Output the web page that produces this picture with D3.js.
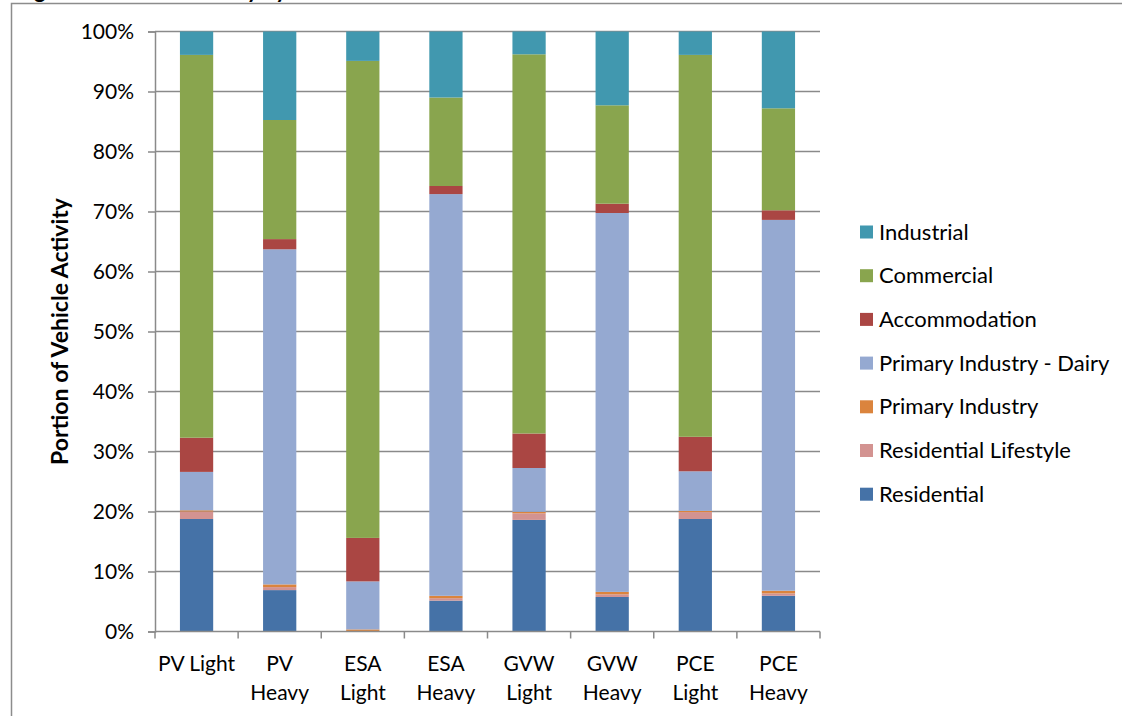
<!DOCTYPE html>
<html>
<head>
<meta charset="utf-8">
<script src="https://cdn.jsdelivr.net/npm/d3@7"></script>
<style>
  html, body { margin: 0; padding: 0; background: #ffffff; }
  svg { display: block; }
  text { font-family: Lato, "Open Sans", sans-serif; fill: #000; }
</style>
</head>
<body>
<svg id="chart" width="1122" height="716"></svg>
<script>
// Vehicle class / measure combinations along the x axis
const categories = ["PV Light", "PV Heavy", "ESA Light", "ESA Heavy",
                    "GVW Light", "GVW Heavy", "PCE Light", "PCE Heavy"];

// Share of vehicle activity (%) by land use, one array per land-use type
const residential          = [18.75, 6.9, 0.0, 5.15, 18.6, 5.75, 18.75, 5.95];
const residentialLifestyle = [1.25, 0.5, 0.05, 0.4, 1.1, 0.45, 1.15, 0.4];
const primaryIndustry      = [0.2, 0.45, 0.3, 0.4, 0.25, 0.4, 0.2, 0.45];
const primaryDairy         = [6.4, 55.85, 8.0, 66.95, 7.3, 63.15, 6.6, 61.8];
const accommodation        = [5.7, 1.7, 7.25, 1.35, 5.75, 1.55, 5.75, 1.6];
const commercial           = [63.8, 19.85, 79.5, 14.75, 63.2, 16.4, 63.65, 17.0];
const industrial           = [3.9, 14.75, 4.9, 11.0, 3.8, 12.3, 3.9, 12.8];

// Stack order, bottom to top
const seriesNames = ["Residential", "Residential Lifestyle", "Primary Industry",
                     "Primary Industry - Dairy", "Accommodation", "Commercial", "Industrial"];
const seriesValues = [residential, residentialLifestyle, primaryIndustry,
                      primaryDairy, accommodation, commercial, industrial];
const seriesColors = ["#4572A7", "#D39391", "#DB843D", "#95A9D1", "#AA4643", "#89A54E", "#4198AF"];

const yTicks = [0, 10, 20, 30, 40, 50, 60, 70, 80, 90, 100];

const rows = categories.map((c, i) => {
  const r = { category: c };
  seriesNames.forEach((s, j) => { r[s] = seriesValues[j][i]; });
  return r;
});

const svg = d3.select("#chart");

// Outer frame of the figure (only its top and left edges fall inside the view)
svg.append("path")
  .attr("d", "M11.5,716 V3.5 H1122")
  .attr("fill", "none").attr("stroke", "#8c8c8c").attr("stroke-width", 1.5);

// Figure caption, mostly above the visible area
svg.append("text")
  .attr("x", 16).attr("y", -2)
  .style("font-weight", "bold").style("font-size", "22px")
  .text("Figure 6: Vehicle Activity by Land Use");

const plot = { left: 155, right: 820, top: 31.5, bottom: 631.5 };

const x = d3.scaleBand().domain(categories)
  .range([plot.left, plot.right]).paddingInner(0.6).paddingOuter(0.3);
const xBand = d3.scaleBand().domain(categories).range([plot.left, plot.right]);
const y = d3.scaleLinear().domain([0, 100]).range([plot.bottom, plot.top]);

// Horizontal gridlines
svg.append("g").selectAll("line")
  .data(yTicks.filter(t => t > 0))
  .join("line")
  .attr("x1", plot.left).attr("x2", plot.right)
  .attr("y1", d => y(d)).attr("y2", d => y(d))
  .attr("stroke", "#8a8a8a").attr("stroke-width", 1.5);

// Stacked bars
const stacked = d3.stack().keys(seriesNames)(rows);
svg.append("g").selectAll("g")
  .data(stacked)
  .join("g")
  .attr("fill", (d, i) => seriesColors[i])
  .selectAll("rect")
  .data(d => d)
  .join("rect")
  .attr("x", d => x(d.data.category))
  .attr("width", x.bandwidth())
  .attr("y", d => y(d[1]))
  .attr("height", d => Math.max(0, y(d[0]) - y(d[1])));

// Y axis
const yAxis = svg.append("g")
  .attr("transform", `translate(${plot.left},0)`)
  .call(d3.axisLeft(y).tickValues(yTicks).tickFormat(d => d + "%").tickSize(7).tickPadding(14));
yAxis.select(".domain").attr("stroke", "#8a8a8a").attr("stroke-width", 1.5);
yAxis.selectAll(".tick line").attr("stroke", "#8a8a8a").attr("stroke-width", 1.5);
yAxis.selectAll(".tick text").style("font-size", "21px").style("font-family", "Lato, sans-serif").attr("fill", "#000");

// X axis: baseline with tick marks at category boundaries
const xAxis = svg.append("g").attr("transform", `translate(0,${plot.bottom})`);
xAxis.append("line")
  .attr("x1", plot.left).attr("x2", plot.right)
  .attr("stroke", "#8a8a8a").attr("stroke-width", 1.5);
const bounds = categories.map(c => xBand(c)).concat([plot.right]);
xAxis.selectAll("line.tk")
  .data(bounds)
  .join("line").attr("class", "tk")
  .attr("x1", d => d).attr("x2", d => d)
  .attr("y1", 0).attr("y2", 7)
  .attr("stroke", "#8a8a8a").attr("stroke-width", 1.5);

// Category labels, wrapped onto two lines where needed
const catLabels = svg.append("g").selectAll("text")
  .data(categories)
  .join("text")
  .attr("text-anchor", "middle")
  .style("font-size", "21px")
  .attr("transform", d => `translate(${xBand(d) + xBand.bandwidth() / 2},0)`);
catLabels.each(function (d) {
  const lines = d === "PV Light" ? [d] : d.split(" ");
  d3.select(this).selectAll("tspan")
    .data(lines)
    .join("tspan")
    .attr("x", 0)
    .attr("y", (l, i) => 671 + i * 29)
    .text(l => l);
});

// Y axis title
svg.append("text")
  .attr("transform", `translate(68,${(plot.top + plot.bottom) / 2}) rotate(-90)`)
  .attr("text-anchor", "middle")
  .style("font-weight", "bold").style("font-size", "23px")
  .text("Portion of Vehicle Activity");

// Legend, top entry first
const legendOrder = seriesNames.map((s, i) => i).reverse();
const legend = svg.append("g").selectAll("g")
  .data(legendOrder)
  .join("g")
  .attr("transform", (d, i) => `translate(860,${232 + i * 43.7})`);
legend.append("rect")
  .attr("x", 0).attr("y", -6.5).attr("width", 13).attr("height", 13)
  .attr("fill", d => seriesColors[d]);
legend.append("text")
  .attr("x", 19).attr("y", 7.5)
  .style("font-size", "22px")
  .text(d => seriesNames[d]);
</script>
</body>
</html>
